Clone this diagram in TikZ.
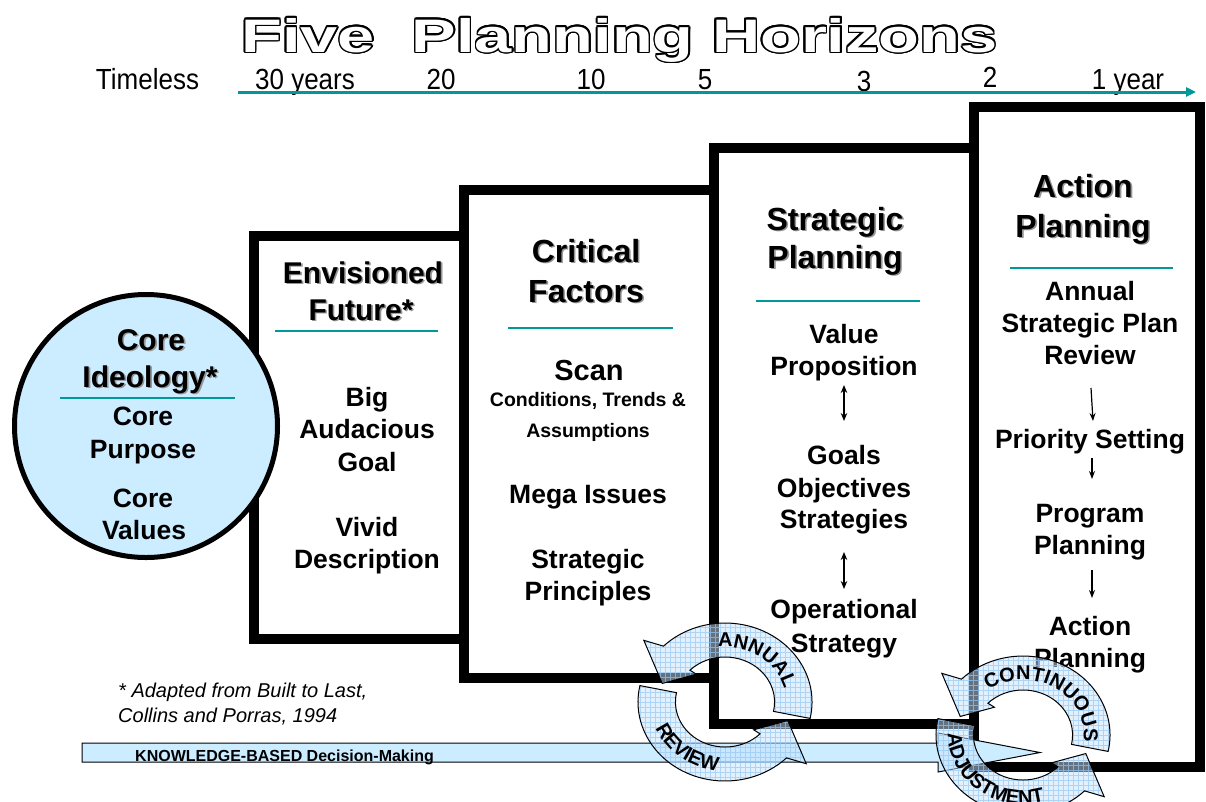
\documentclass[tikz,border=0pt]{standalone}
\usepackage{graphicx}
\usepackage{fontspec}
\setmainfont{Liberation Sans}
\usetikzlibrary{arrows.meta,decorations.text}
\definecolor{teal1}{RGB}{0,153,153}
\definecolor{lblue}{RGB}{204,236,255}
\definecolor{afill}{RGB}{200,228,255}
\definecolor{agrid}{RGB}{150,200,245}
\definecolor{shad}{RGB}{150,150,150}
\tikzset{
 hd/.style={font=\fontsize{32}{32}\selectfont\bfseries, anchor=base, inner sep=0},
 hdsm/.style={font=\fontsize{30}{30}\selectfont\bfseries},
 hdsh/.style={hd, text=shad},
 bd/.style={font=\fontsize{26.5}{26.5}\selectfont\bfseries, anchor=base, inner sep=0},
 sm/.style={font=\fontsize{19.5}{19.5}\selectfont\bfseries, anchor=base, inner sep=0},
 tl/.style={font=\fontsize{26}{26}\selectfont, anchor=base, inner sep=0},
 fn/.style={font=\fontsize{20}{20}\selectfont\itshape, anchor=base west, inner sep=0},
 ttlstyle/.style={anchor=base, inner sep=0},
 box/.style={draw=black, line width=10pt, fill=white},
 divider/.style={draw=teal1, line width=1.5pt},
 dbl/.style={line width=1.4pt, {Stealth[length=8pt,width=6.5pt]}-{Stealth[length=8pt,width=6.5pt]}},
 sgl/.style={line width=1.2pt, -{Stealth[length=8pt,width=6pt]}},
}
\newcommand\hdl[5][]{\node[hdsh,#1] (#2s) at ({#3+1.6},{#4+1.6}) {#5}; \node[hd,#1] (#2) at (#3,#4) {#5};}
\newcommand\ttl{\scalebox{1.42}[1]{\fontsize{47}{47}\selectfont\bfseries Five\hspace{0.55em}Planning Horizons}}
\newcommand\tall[1]{\scalebox{1}[1.12]{#1}}
\newcommand\arctxt{\fontsize{20}{20}\selectfont\bfseries}
\newcommand\cararrow{(-12:87 and 79) arc[start angle=-12, end angle=135, x radius=87, y radius=79] -- (140:106 and 96) -- (162:66 and 60) -- (133:42 and 38) -- (135:49.6 and 45) arc[start angle=135, end angle=-12, x radius=49.6, y radius=45] -- cycle}
\newcommand\cyclearrow[1]{%
 \begin{scope}[rotate=#1]
  \fill[afill, opacity=0.5] \cararrow;
  \begin{scope}
   \clip \cararrow;
   \draw[agrid, line width=0.6pt, opacity=0.7, step=5pt] (-130,-130) grid (130,130);
  \end{scope}
  \draw[line width=1pt] \cararrow;
 \end{scope}}
\begin{document}
\begin{tikzpicture}[x=1pt,y=-1pt]
\useasboundingbox (0,0) rectangle (1206,801);
\fill[white] (0,0) rectangle (1206,801);

% title
\foreach \i in {1,...,16}{\node[ttlstyle, text=black] (tt\i) at ({619.5+1.5*cos(22.5*\i)},{52+1.5*sin(22.5*\i)}) {\ttl};}
\node[ttlstyle, text=white] (title) at (619.5,52) {\ttl};

% timeline
\node[tl] (t0) at (147.5,89) {\tall{Timeless}};
\node[tl] (t1) at (305,89) {\tall{30 years}};
\node[tl] (t2) at (441,89) {\tall{20}};
\node[tl] (t3) at (591,89) {\tall{10}};
\node[tl] (t4) at (705,89) {\tall{5}};
\node[tl] (t5) at (864,91) {\tall{3}};
\node[tl] (t6) at (990,87) {\tall{2}};
\node[tl] (t7) at (1128,89) {\tall{1 year}};
\coordinate (tla) at (238,92);
\coordinate (tlb) at (1196,92);
\draw[teal1, line width=3pt, -{Triangle[length=10pt,width=9pt]}] (tla) -- (tlb);

% boxes
\draw[box] (254,236) rectangle (464,639);
\draw[box] (464,190) rectangle (714,678);
\draw[box] (714,148) rectangle (974,724);
\draw[box] (974,107) rectangle (1200,767);

% core ideology circle
\node[circle, draw=black, line width=5pt, fill=lblue, minimum size=263pt, inner sep=0] (core) at (146,426) {};
\hdl[hdsm]{ci1}{151}{350}{Core}
\hdl[hdsm]{ci2}{150}{387}{Ideology*}
\draw[divider] (60,398) -- (235,398);
\node[bd] (cp1) at (143,425) {Core};
\node[bd] (cp2) at (143,458) {Purpose};
\node[bd] (cv1) at (143,507) {Core};
\node[bd] (cv2) at (144,539) {Values};

% box 1
\hdl[hdsm]{ef1}{363}{283}{Envisioned}
\hdl[hdsm]{ef2}{361}{320}{Future*}
\draw[divider] (275,331) -- (438,331);
\node[bd] (b1a) at (367,406) {Big};
\node[bd] (b1b) at (367,438) {Audacious};
\node[bd] (b1c) at (367,471) {Goal};
\node[bd] (b1d) at (367,536) {Vivid};
\node[bd] (b1e) at (367,568) {Description};

% box 2
\hdl{cf1}{586}{262}{Critical}
\hdl{cf2}{586}{302}{Factors}
\draw[divider] (508,328) -- (673,328);
\node[bd, font=\fontsize{29}{29}\selectfont\bfseries] (b2a) at (589,380) {Scan};
\node[sm] (b2b) at (588,406) {Conditions, Trends \&};
\node[sm] (b2c) at (588,437) {Assumptions};
\node[bd] (b2d) at (588,503) {Mega Issues};
\node[bd] (b2e) at (588,568) {Strategic};
\node[bd] (b2f) at (588,600) {Principles};

% box 3
\hdl{sp1}{835}{230}{Strategic}
\hdl{sp2}{835}{268}{Planning}
\draw[divider] (756,301) -- (920,301);
\node[bd] (b3a) at (844,343) {Value};
\node[bd] (b3b) at (844,375) {Proposition};
\node[bd] (b3c) at (844,464) {Goals};
\node[bd] (b3d) at (844,497) {Objectives};
\node[bd] (b3e) at (844,528) {Strategies};
\node[bd] (b3f) at (844,618) {Operational};
\node[bd] (b3g) at (844,652) {Strategy};
\coordinate (d1a) at (844,385);
\coordinate (d1b) at (844,421);
\coordinate (d2a) at (844,552);
\coordinate (d2b) at (844,589);
\draw[dbl] (d1a) -- (d1b);
\draw[dbl] (d2a) -- (d2b);

% box 4
\hdl{ap1}{1083}{197}{Action}
\hdl{ap2}{1083}{237}{Planning}
\draw[divider] (1010,268) -- (1173,268);
\node[bd] (b4a) at (1090,300) {Annual};
\node[bd] (b4b) at (1090,332) {Strategic Plan};
\node[bd] (b4c) at (1090,364) {Review};
\node[bd] (b4d) at (1090,448) {Priority Setting};
\node[bd] (b4e) at (1090,522) {Program};
\node[bd] (b4f) at (1090,554) {Planning};
\node[bd] (b4g) at (1090,635) {Action};
\node[bd] (b4h) at (1090,667) {Planning};
\coordinate (s1a) at (1091,388);
\coordinate (s1b) at (1093,421);
\coordinate (s2a) at (1092,458);
\coordinate (s2b) at (1092,479);
\coordinate (s3a) at (1092,570);
\coordinate (s3b) at (1092,598);
\draw[sgl] (s1a) -- (s1b);
\draw[sgl] (s2a) -- (s2b);
\draw[sgl] (s3a) -- (s3b);

% footnote
\node[fn] (fn1) at (118,697) {* Adapted from Built to Last,};
\node[fn] (fn2) at (118,722) {Collins and Porras, 1994};

% knowledge band
\draw[line width=1pt, fill=lblue] (82,743) -- (938,743) -- (938,733) -- (1040,752.5) -- (938,772) -- (938,762) -- (82,762) -- cycle;
\node[font=\fontsize{16}{16}\selectfont\bfseries, anchor=base west, inner sep=0] (kb) at (135,761) {KNOWLEDGE-BASED Decision-Making};

% cycle 1
\begin{scope}[shift={(725,702)}, yscale=-1]
 \cyclearrow{0}
 \cyclearrow{180}
 \path[decorate, font=\arctxt, decoration={text along path, text align=center, text={|\arctxt|ANNUAL}}] (105:61 and 55) arc[start angle=105, end angle=5, x radius=61, y radius=55];
 \path[decorate, font=\arctxt, decoration={text along path, text align=center, text={|\arctxt|REVIEW}}] (185:75 and 69) arc[start angle=185, end angle=280, x radius=75, y radius=69];
\end{scope}

% cycle 2
\begin{scope}[shift={(1023,735)}, yscale=-1]
 \cyclearrow{0}
 \cyclearrow{180}
 \path[decorate, font=\arctxt, decoration={text along path, text align=center, text={|\arctxt|CONTINUOUS}}] (130:61 and 55) arc[start angle=130, end angle=-12, x radius=61, y radius=55];
 \path[decorate, font=\arctxt, decoration={text along path, text align=center, text={|\arctxt|ADJUSTMENT}}] (170:75 and 69) arc[start angle=170, end angle=295, x radius=75, y radius=69];
\end{scope}
\end{tikzpicture}
\end{document}
